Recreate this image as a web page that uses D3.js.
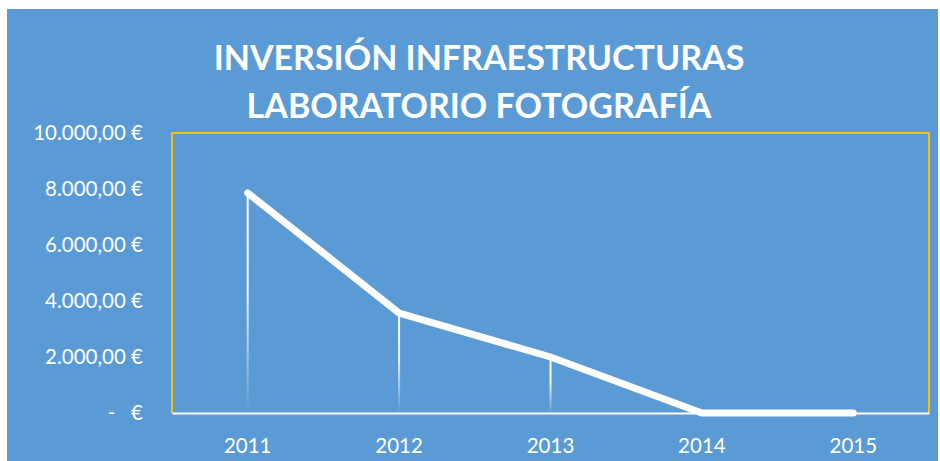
<!DOCTYPE html>
<html>
<head>
<meta charset="utf-8">
<script src="https://cdn.jsdelivr.net/npm/d3@7"></script>
<style>
  body { margin: 0; background: #fff; }
  text { font-family: Lato, "Noto Sans", sans-serif; }
</style>
</head>
<body>
<div id="chart"></div>
<script>
// data
const years = ["2011", "2012", "2013", "2014", "2015"];
const inversion = [7860, 3570, 2000, 0, 0];
const yTicks = [0, 2000, 4000, 6000, 8000, 10000];
const titleLines = ["INVERSIÓN INFRAESTRUCTURAS", "LABORATORIO FOTOGRAFÍA"];

const width = 940;
const height = 461;
const margin = { top: 133, right: 11, bottom: 48, left: 172 };

const svg = d3.select("#chart").append("svg")
    .attr("width", width)
    .attr("height", height);

// blue chart area
svg.append("rect")
    .attr("x", 7).attr("y", 9)
    .attr("width", 931).attr("height", height - 9)
    .attr("fill", "#5B9BD5");

// title
svg.append("text")
    .attr("x", 479)
    .attr("y", 70)
    .attr("text-anchor", "middle")
    .attr("fill", "#fff")
    .attr("font-size", "34px")
    .attr("font-weight", "bold")
    .selectAll("tspan")
    .data(titleLines)
    .join("tspan")
    .attr("x", 479)
    .attr("dy", (d, i) => i === 0 ? 0 : 48)
    .text(d => d);

const x = d3.scaleBand()
    .domain(years)
    .range([margin.left, width - margin.right]);

const y = d3.scaleLinear()
    .domain([0, 10000])
    .range([height - margin.bottom, margin.top]);

const defs = svg.append("defs");
const grad = defs.append("linearGradient")
    .attr("id", "fade")
    .attr("x1", 0).attr("y1", 0)
    .attr("x2", 0).attr("y2", 1);
grad.append("stop").attr("offset", "0%").attr("stop-color", "#fff").attr("stop-opacity", 1);
grad.append("stop").attr("offset", "45%").attr("stop-color", "#fff").attr("stop-opacity", 0.9);
grad.append("stop").attr("offset", "100%").attr("stop-color", "#fff").attr("stop-opacity", 0);

// plot area border (yellow on top, left, right)
const x0 = margin.left, x1 = width - margin.right;
const yTop = margin.top, yBot = height - margin.bottom;
svg.append("path")
    .attr("d", `M${x0},${yBot}V${yTop}H${x1}V${yBot}`)
    .attr("fill", "none")
    .attr("stroke", "#FFC000")
    .attr("stroke-width", 2);

// y axis labels
const fmt = v => v === 0 ? "-\u00a0\u00a0\u00a0€" :
    d3.format(",.2f")(v).replace(/,/g, "#").replace(".", ",").replace(/#/g, ".") + " €";

svg.append("g")
    .attr("transform", `translate(${x0},0)`)
    .call(d3.axisLeft(y).tickValues(yTicks).tickFormat(fmt).tickSize(0).tickPadding(29))
    .call(g => g.select(".domain").remove())
    .call(g => g.selectAll("text")
        .attr("fill", "#fff")
        .attr("font-size", "20.5px")
        .attr("font-family", "Lato, 'Noto Sans', sans-serif"));

// x axis
svg.append("g")
    .attr("transform", `translate(0,${yBot})`)
    .call(d3.axisBottom(x).tickSize(0).tickPadding(25))
    .call(g => g.select(".domain").attr("stroke", "#fff").attr("stroke-width", 2))
    .call(g => g.selectAll("text")
        .attr("fill", "#fff")
        .attr("font-size", "20.5px")
        .attr("font-family", "Lato, 'Noto Sans', sans-serif"));

const data = years.map((yr, i) => ({ year: yr, value: inversion[i] }));
const cx = d => x(d.year) + x.bandwidth() / 2;

// drop lines
svg.append("g")
    .selectAll("rect")
    .data(data.filter(d => d.value > 0))
    .join("rect")
    .attr("x", d => cx(d) - 1)
    .attr("y", d => y(d.value))
    .attr("width", 2)
    .attr("height", d => yBot - y(d.value))
    .attr("fill", "url(#fade)");

// line
svg.append("path")
    .datum(data)
    .attr("fill", "none")
    .attr("stroke", "#fff")
    .attr("stroke-width", 7)
    .attr("stroke-linecap", "round")
    .attr("stroke-linejoin", "miter")
    .attr("d", d3.line().x(cx).y(d => y(d.value)));
</script>
</body>
</html>
